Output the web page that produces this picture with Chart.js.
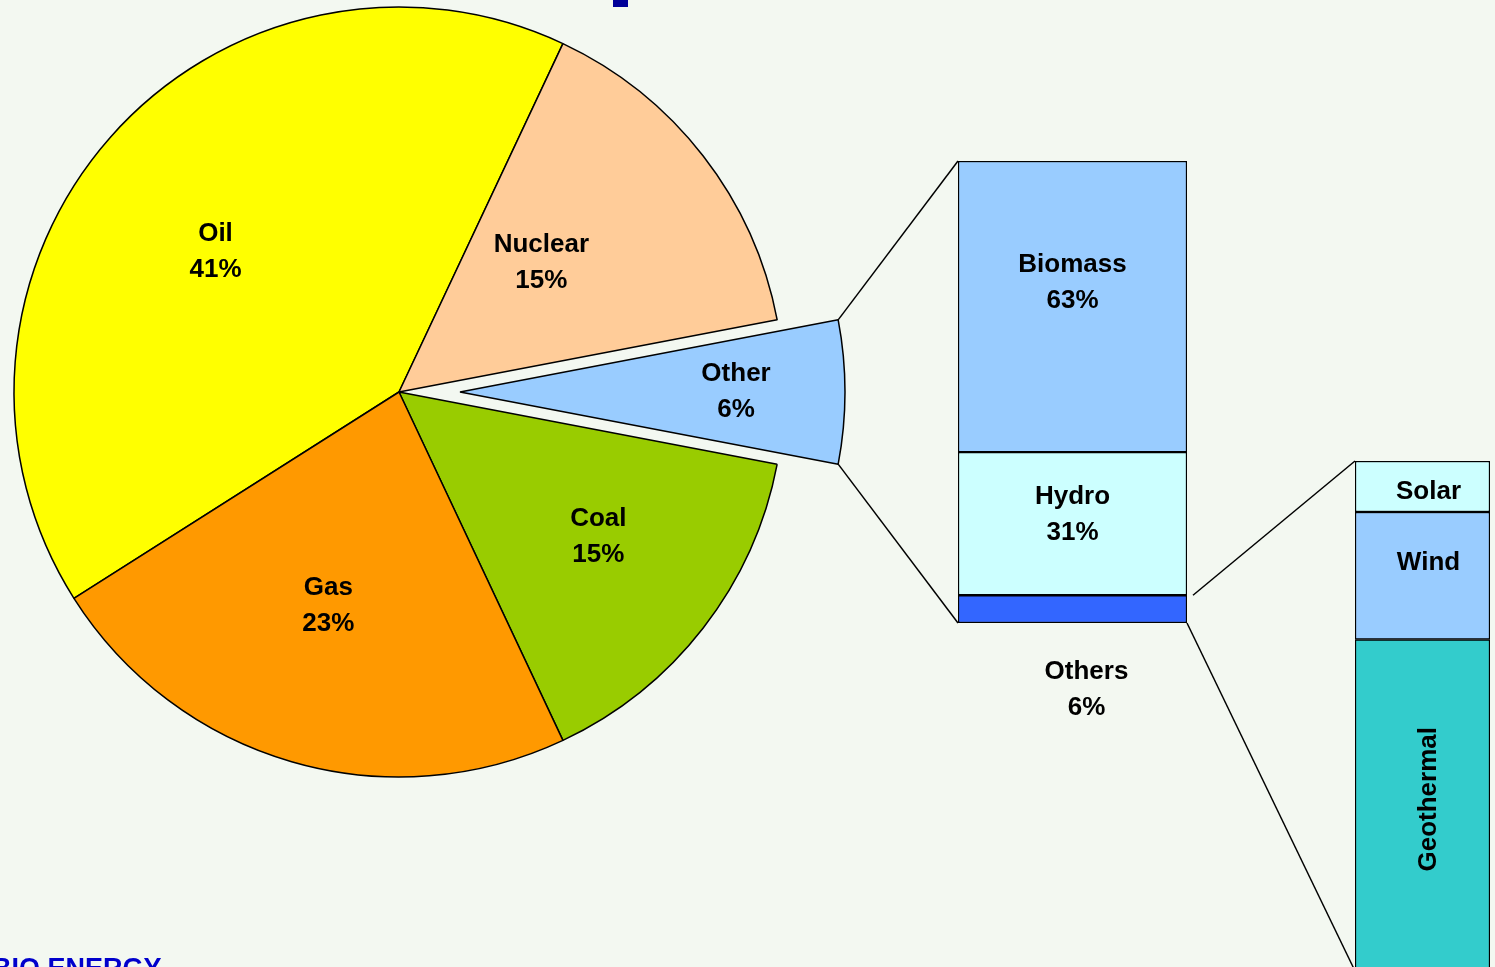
<!DOCTYPE html>
<html><head><meta charset="utf-8">
<script src="https://cdn.jsdelivr.net/npm/chart.js@4.4.0/dist/chart.umd.min.js"></script>
<style>
html,body{margin:0;padding:0;overflow:hidden;background:#F3F8F1;width:1495px;height:967px;}
#wrap{position:relative;width:1495px;height:967px;overflow:hidden;background:#F3F8F1;}
canvas{position:absolute;left:0;top:0;}
#bio{position:absolute;left:-8px;top:955px;font:bold 27px "Liberation Sans",Arial,sans-serif;line-height:27px;color:#0000CC;white-space:nowrap;}
#frag{position:absolute;left:613px;top:0;width:15px;height:7px;background:#000099;}
</style></head><body>
<div id="wrap">
<canvas id="pie" width="1495" height="1000"></canvas>
<canvas id="pieOut" width="1495" height="1000"></canvas>
<canvas id="bar1" width="1495" height="1000"></canvas>
<canvas id="bar2" width="1495" height="1000"></canvas>
<canvas id="links" width="1495" height="1000"></canvas>
<div id="frag"></div>
<div id="bio">BIO ENERGY</div>
</div>
<script>
// ---------- DATA ----------
const pieLabels = ['Oil', 'Nuclear', 'Other', 'Coal', 'Gas'];
const pieValues = [41, 15, 6, 15, 23];
const otherLabels = ['Biomass', 'Hydro', 'Others'];
const otherValues = [63, 31, 6];
const othersLabels = ['Solar', 'Wind', 'Geothermal'];
const othersValues = [10, 25, 65];

// ---------- STYLE ----------
const FONT = 'bold 26px "Liberation Sans", Arial, sans-serif';
const pieColors = ['#FFFF00', '#FFCC99', '#99CCFF', '#99CC00', '#FF9900'];
const explodeIdx = pieLabels.indexOf('Other');
const EXPLODE = 62;
const PIE_R = 385, PIE_CX = 398, PIE_CY = 392, PIE_ROT = 237.6;
const pieLabelFrac = [0.60, 0.50, 0.717, 0.64, 0.585];
const pieLabelDAng = [-4, -4.5, 0, -1.8, 2.1];
const otherColors = ['#99CCFF', '#CCFFFF', '#3366FF'];
const othersColors = ['#CCFFFF', '#99CCFF', '#33CCCC'];

Chart.defaults.font.family = '"Liberation Sans", Arial, sans-serif';

function drawLines(ctx, lines, x, y, lh) {
  const n = lines.length;
  lines.forEach((s, i) => ctx.fillText(s, x, y + (i - (n - 1) / 2) * lh));
}

function pieLabelPlugin(show) {
  return {
    id: 'pieLabels',
    afterDatasetsDraw(chart) {
      const ctx = chart.ctx;
      const meta = chart.getDatasetMeta(0);
      ctx.save();
      ctx.font = FONT; ctx.fillStyle = '#000'; ctx.textAlign = 'center'; ctx.textBaseline = 'middle';
      meta.data.forEach((el, i) => {
        if (!show(i)) return;
        const mid = (el.startAngle + el.endAngle) / 2 + pieLabelDAng[i] * Math.PI / 180;
        const r = el.outerRadius * pieLabelFrac[i];
        drawLines(ctx, [pieLabels[i], pieValues[i] + '%'], el.x + Math.cos(mid) * r, el.y + Math.sin(mid) * r, 36);
      });
      ctx.restore();
    }
  };
}

function makePie(id, cx, cy, show) {
  return new Chart(document.getElementById(id), {
    type: 'pie',
    data: {
      labels: pieLabels,
      datasets: [{
        data: pieValues,
        backgroundColor: pieColors.map((c, i) => show(i) ? c : 'rgba(0,0,0,0)'),
        borderColor: '#000000',
        borderWidth: pieValues.map((v, i) => show(i) ? 1.5 : 0)
      }]
    },
    options: {
      responsive: false,
      animation: false,
      events: [],
      rotation: PIE_ROT,
      radius: PIE_R,
      layout: {padding: {left: 2 * cx - 796 + (796 - cx) - (796 - cx), top: 0, right: 0, bottom: 0}},
      plugins: {legend: {display: false}, tooltip: {enabled: false}}
    },
    plugins: [pieLabelPlugin(show)]
  });
}

function pieWithCenter(id, cx, cy, show) {
  // chart area chosen so that its centre is (cx, cy)
  const half = 400;
  const pad = {left: cx - half, right: 1495 - (cx + half), top: cy - 392, bottom: 1000 - (cy + 392)};
  const ch = new Chart(document.getElementById(id), {
    type: 'pie',
    data: {
      labels: pieLabels,
      datasets: [{
        data: pieValues,
        backgroundColor: pieColors.map((c, i) => show(i) ? c : 'rgba(0,0,0,0)'),
        borderColor: '#000000',
        borderWidth: pieValues.map((v, i) => show(i) ? 1.5 : 0)
      }]
    },
    options: {
      responsive: false,
      animation: false,
      events: [],
      rotation: PIE_ROT,
      radius: PIE_R,
      layout: {padding: pad},
      plugins: {legend: {display: false}, tooltip: {enabled: false}}
    },
    plugins: [pieLabelPlugin(show)]
  });
  return ch;
}

// main pie (all slices but the exploded one)
const pieChart = pieWithCenter('pie', PIE_CX, PIE_CY, i => i !== explodeIdx);
// exploded slice: same pie, centre moved outward along the slice's middle angle
const total = pieValues.reduce((a, b) => a + b, 0);
const before = pieValues.slice(0, explodeIdx).reduce((a, b) => a + b, 0);
const midDeg = PIE_ROT + (before + pieValues[explodeIdx] / 2) / total * 360;
const midRad = (midDeg - 90) * Math.PI / 180;
const pieOut = pieWithCenter('pieOut',
  Math.round(PIE_CX + Math.cos(midRad) * EXPLODE),
  Math.round(PIE_CY + Math.sin(midRad) * EXPLODE),
  i => i === explodeIdx);

function stackedBar(id, labels, values, colors, padding, labelFn) {
  const ds = [];
  for (let i = labels.length - 1; i >= 0; i--) {
    ds.push({
      label: labels[i],
      data: [values[i]],
      backgroundColor: colors[i],
      borderColor: '#000000',
      borderWidth: 1.5,
      borderSkipped: false,
      categoryPercentage: 1,
      barPercentage: 1,
      _idx: i
    });
  }
  return new Chart(document.getElementById(id), {
    type: 'bar',
    data: {labels: [''], datasets: ds},
    options: {
      responsive: false,
      animation: false,
      events: [],
      layout: {padding: padding},
      scales: {
        x: {stacked: true, display: false},
        y: {stacked: true, display: false, min: 0, max: 100}
      },
      plugins: {legend: {display: false}, tooltip: {enabled: false}}
    },
    plugins: [{
      id: 'barLabels',
      afterDatasetsDraw(chart) {
        const ctx = chart.ctx;
        ctx.save();
        ctx.font = FONT; ctx.fillStyle = '#000'; ctx.textAlign = 'center'; ctx.textBaseline = 'middle';
        chart.data.datasets.forEach((d, di) => {
          const el = chart.getDatasetMeta(di).data[0];
          labelFn(ctx, d._idx, el);
        });
        ctx.restore();
      }
    }]
  });
}

const bar1LabelDy = [-24, -9, 0];
const bar1 = stackedBar('bar1', otherLabels, otherValues, otherColors,
  {left: 958, right: 1495 - 1187, top: 161, bottom: 1000 - 623},
  (ctx, i, el) => {
    const top = Math.min(el.y, el.base), bot = Math.max(el.y, el.base);
    if (i === otherLabels.length - 1) {
      drawLines(ctx, [otherLabels[i], otherValues[i] + '%'], el.x + 14, bot + 67, 36);
    } else {
      drawLines(ctx, [otherLabels[i], otherValues[i] + '%'], el.x, (top + bot) / 2 + bar1LabelDy[i], 36);
    }
  });

const bar2LabelDy = [5, -13, -6];
const bar2 = stackedBar('bar2', othersLabels, othersValues, othersColors,
  {left: 1355, right: 1495 - 1490, top: 461, bottom: 1000 - 971},
  (ctx, i, el) => {
    const top = Math.min(el.y, el.base), bot = Math.max(el.y, el.base);
    const cy = (top + bot) / 2 + bar2LabelDy[i];
    if (i === 2) {
      ctx.save();
      ctx.translate(el.x + 6, cy);
      ctx.rotate(-Math.PI / 2);
      ctx.fillText(othersLabels[i], 0, 0);
      ctx.restore();
    } else {
      ctx.fillText(othersLabels[i], el.x + 6, cy);
    }
  });

// ---------- connector lines ----------
(function () {
  const ctx = document.getElementById('links').getContext('2d');
  ctx.strokeStyle = '#000'; ctx.lineWidth = 1.5;
  const arc = pieOut.getDatasetMeta(0).data[explodeIdx];
  const cx = arc.x, cy = arc.y, R = arc.outerRadius;
  const p1 = [cx + Math.cos(arc.startAngle) * R, cy + Math.sin(arc.startAngle) * R];
  const p2 = [cx + Math.cos(arc.endAngle) * R, cy + Math.sin(arc.endAngle) * R];
  const area1 = bar1.chartArea, area2 = bar2.chartArea;
  const oEl = bar1.getDatasetMeta(0).data[0];
  const oTop = Math.min(oEl.y, oEl.base);
  function line(a, b) { ctx.beginPath(); ctx.moveTo(a[0], a[1]); ctx.lineTo(b[0], b[1]); ctx.stroke(); }
  line(p1, [area1.left, area1.top]);
  line(p2, [area1.left, area1.bottom]);
  line([area1.right + 6, oTop], [area2.left, area2.top]);
  line([area1.right, area1.bottom], [area2.left, area2.bottom]);
})();
</script>
</body></html>
